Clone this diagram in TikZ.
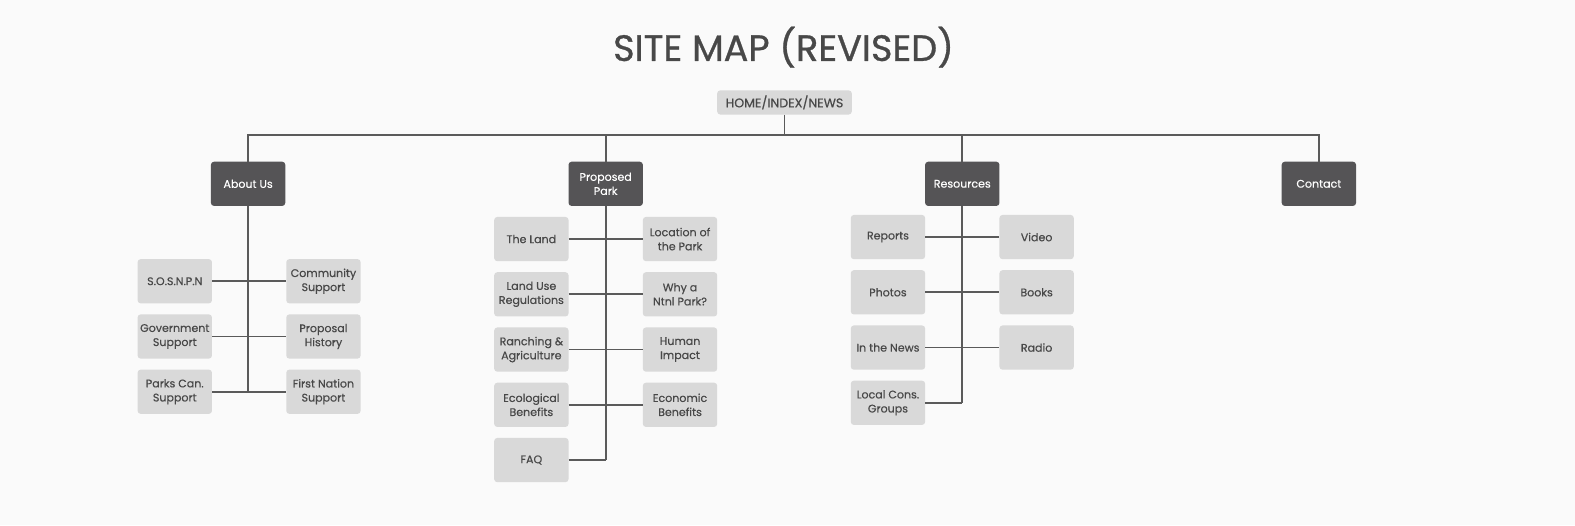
\documentclass[tikz,border=0pt]{standalone}
\usepackage{xcolor}
\usepackage{fontspec}
\setmainfont{Poppins}[FakeBold=0.4]
\newfontfamily\titlefont{Poppins}[FakeBold=0.8]
\usepackage{tikz}
\usetikzlibrary{positioning}

\definecolor{pagebg}{RGB}{250,250,250}
\definecolor{boxgray}{RGB}{217,217,217}
\definecolor{darkbox}{RGB}{85,84,86}
\definecolor{inkgray}{RGB}{72,72,72}
\definecolor{linegray}{RGB}{90,90,90}

\begin{document}
\begin{tikzpicture}[x=1pt, y=-1pt,
  pagebox/.style={fill=boxgray, rounded corners=3pt, minimum width=74pt,
        minimum height=44pt, align=center, inner sep=1pt, text=inkgray,
        font=\fontsize{11}{14}\selectfont},
  sectionbox/.style={pagebox, fill=darkbox, text=white},
  homebox/.style={pagebox, minimum width=134pt, minimum height=24pt,
        font=\fontsize{12.5}{14}\selectfont},
  wire/.style={draw=linegray, line width=1.8pt}]
  \fill[pagebg] (0,0) rectangle (1568,523);
  \useasboundingbox (0,0) rectangle (1568,523);

  \node[text=inkgray, font=\titlefont\fontsize{36.5}{42}\selectfont] (title) at (780,47) {SITE MAP (REVISED)};
  \node[homebox] (home) at (781,102) {HOME/INDEX/NEWS};

  % top level
  \node[sectionbox] (about)     at (247,183)  {About Us};
  \node[sectionbox] (proposed)  at (603,183)  {Proposed\\Park};
  \node[sectionbox] (resources) at (958,183)  {Resources};
  \node[sectionbox] (contact)   at (1313,183) {Contact};

  % about us
  \node[pagebox] (sosnpn)     at (174,280) {S.O.S.N.P.N};
  \node[pagebox] (community)  at (322,280) {Community\\Support};
  \node[pagebox] (government) at (174,335) {Government\\Support};
  \node[pagebox] (history)    at (322,335) {Proposal\\History};
  \node[pagebox] (parkscan)   at (174,390) {Parks Can.\\Support};
  \node[pagebox] (firstnation) at (322,390) {First Nation\\Support};

  % proposed park
  \node[pagebox] (land)       at (529,238) {The Land};
  \node[pagebox] (location)   at (677,238) {Location of\\the Park};
  \node[pagebox] (landuse)    at (529,293) {Land Use\\Regulations};
  \node[pagebox] (whypark)    at (677,293) {Why a\\Ntnl Park?};
  \node[pagebox] (ranching)   at (529,348) {Ranching \&\\Agriculture};
  \node[pagebox] (human)      at (677,348) {Human\\Impact};
  \node[pagebox] (ecological) at (529,403) {Ecological\\Benefits};
  \node[pagebox] (economic)   at (677,403) {Economic\\Benefits};
  \node[pagebox] (faq)        at (529,458) {FAQ};

  % resources
  \node[pagebox] (reports)  at (884,236)  {Reports};
  \node[pagebox] (video)    at (1032,236) {Video};
  \node[pagebox] (photos)   at (884,291)  {Photos};
  \node[pagebox] (books)    at (1032,291) {Books};
  \node[pagebox] (news)     at (884,346)  {In the News};
  \node[pagebox] (radio)    at (1032,346) {Radio};
  \node[pagebox] (localcons) at (884,401) {Local Cons.\\Groups};

  % bus
  \coordinate (bus) at (781,134);
  \draw[wire] (home) -- (bus);
  \draw[wire] (about.north) |- (bus) -| (contact.north);
  \draw[wire] (proposed.north) -- (proposed.north |- bus);
  \draw[wire] (resources.north) -- (resources.north |- bus);

  % spines
  \draw[wire] (about) -- (about |- parkscan);
  \draw[wire] (proposed) -- (proposed |- faq);
  \draw[wire] (resources) -- (resources |- localcons);

  \foreach \a/\b in {sosnpn/community, government/history, parkscan/firstnation,
      land/location, landuse/whypark, ranching/human, ecological/economic,
      reports/video, photos/books, news/radio}
    \draw[wire] (\a) -- (\b);
  \draw[wire] (faq) -- (proposed |- faq);
  \draw[wire] (localcons) -- (resources |- localcons);
\end{tikzpicture}
\end{document}
